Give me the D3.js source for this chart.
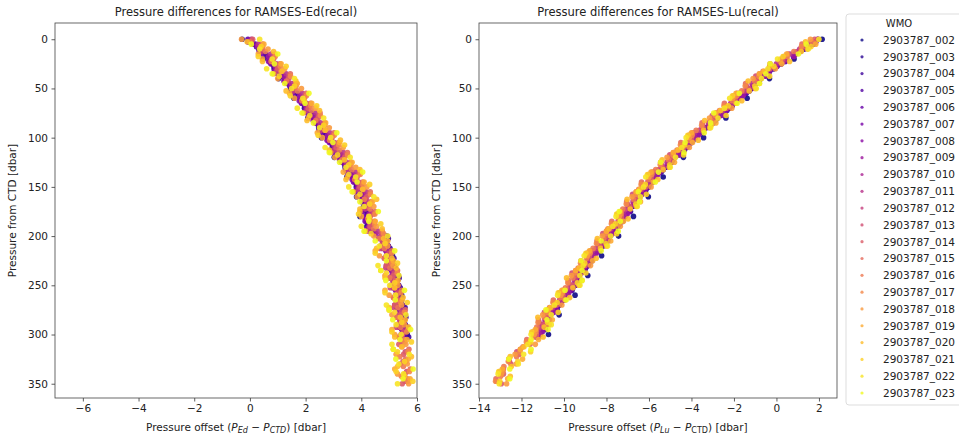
<!DOCTYPE html>
<html>
<head>
<meta charset="utf-8">
<script src="https://cdn.jsdelivr.net/npm/d3@7"></script>
<style>
body{margin:0;background:#fff;}
text{font-family:"DejaVu Sans",sans-serif;fill:#222;}
</style>
</head>
<body>
<svg width="959" height="436"></svg>
<script>
// profiles shown in the legend
var profiles = ["2903787_002","2903787_003","2903787_004","2903787_005","2903787_006","2903787_007",
  "2903787_008","2903787_009","2903787_010","2903787_011","2903787_012","2903787_013","2903787_014",
  "2903787_015","2903787_016","2903787_017","2903787_018","2903787_019","2903787_020","2903787_021",
  "2903787_022","2903787_023"];

// CTD pressure levels of the profiles (profile i uses pressLevels[i % 4])
var pressA = [0,10,20,30,40,50,60,70,80,90,100,110,120,130,140,150,160,170,180,190,200,210,220,230,240,250,260,270,280,290,300,310,320,330,340,350];
var pressB = [5,15,25,35,45,55,65,75,85,95,105,115,125,135,145,155,165,175,185,195,205,215,225,235,245,255,265,275,285,295,305,315,325,335,345];
var pressC = [2.5,12.5,22.5,32.5,42.5,52.5,62.5,72.5,82.5,92.5,102.5,112.5,122.5,132.5,142.5,152.5,162.5,172.5,182.5,192.5,202.5,212.5,222.5,232.5,242.5,252.5,262.5,272.5,282.5,292.5,302.5,312.5,322.5,332.5,342.5];
var pressD = [7.5,17.5,27.5,37.5,47.5,57.5,67.5,77.5,87.5,97.5,107.5,117.5,127.5,137.5,147.5,157.5,167.5,177.5,187.5,197.5,207.5,217.5,227.5,237.5,247.5,257.5,267.5,277.5,287.5,297.5,307.5,317.5,327.5,337.5,347.5];
var pressLevels = [pressA, pressB, pressC, pressD];

var xTicksEd = [-6,-4,-2,0,2,4,6];
var xTicksLu = [-14,-12,-10,-8,-6,-4,-2,0,2];
var yTicks = [0,50,100,150,200,250,300,350];

// P_Ed - P_CTD per profile (dbar)
var edOffsets = [
 [-0.28,0.32,0.48,0.87,1.03,1.46,1.58,1.96,2.08,2.47,2.57,2.96,3.03,3.42,3.48,3.82,3.83,4.08,3.95,4.2,4.92,4.97,5.12,5.18,5.33,5.34,5.45,5.48,5.58,5.57,5.65],
 [0.18,0.57,0.81,1.12,1.38,1.69,1.91,2.19,2.41,2.69,2.91,3.17,3.35,3.62,3.78,3.99,4.08,4.18,4.2,4.42,4.92,4.98,5.12,5.18,5.3,5.33,5.44,5.46,5.55,5.55],
 [-0.05,0.37,0.73,0.91,1.27,1.52,1.83,2.02,2.32,2.53,2.82,3.03,3.27,3.47,3.72,3.88,4.07,4.13,4.2,4.25,4.97,5.03,5.17,5.22,5.36,5.4,5.46,5.57,5.6,5.66,5.7],
 [0.23,0.62,0.86,1.17,1.43,1.74,1.96,2.24,2.46,2.74,2.96,3.22,3.4,3.67,3.83,4.04,4.13,4.23,4.25,4.47,4.83,4.97,5.03,5.17,5.21,5.32,5.35,5.45,5.46,5.54],
 [-0.07,0.42,0.68,0.97,1.23,1.57,1.78,2.07,2.28,2.57,2.78,3.07,3.23,3.52,3.68,3.92,4.03,4.17,4.15,4.29,4.83,4.97,5.03,5.17,5.22,5.34,5.36,5.47,5.48,5.57,5.55],
 [0.12,0.43,0.75,0.98,1.32,1.55,1.85,2.05,2.35,2.55,2.85,3.03,3.29,3.48,3.72,3.85,4.02,4.04,4.14,4.28,4.82,4.88,5.02,5.08,5.2,5.23,5.34,5.36,5.45,5.45],
 [-0.08,0.33,0.67,0.88,1.22,1.48,1.77,1.98,2.27,2.48,2.77,2.98,3.22,3.43,3.67,3.83,4.02,4.08,4.14,4.2,4.62,4.77,4.83,4.97,5.02,5.14,5.16,5.27,5.28,5.37,5.36],
 [0.28,0.67,0.91,1.22,1.48,1.79,2.01,2.29,2.51,2.79,3.01,3.27,3.45,3.72,3.88,4.09,4.18,4.28,4.3,4.52,4.78,4.92,4.98,5.12,5.16,5.27,5.3,5.4,5.41,5.49],
 [0.05,0.4,0.8,0.95,1.35,1.55,1.9,2.05,2.4,2.55,2.9,3.05,3.35,3.5,3.8,3.9,4.15,4.15,4.27,4.28,4.7,4.7,4.9,4.9,5.1,5.07,5.23,5.2,5.35,5.3,5.43],
 [0.3,0.75,0.95,1.3,1.5,1.87,2.03,2.37,2.53,2.87,3.03,3.35,3.47,3.8,3.9,4.17,4.2,4.36,4.32,4.6,4.75,4.95,4.95,5.15,5.13,5.3,5.27,5.43,5.38,5.5],
 [0.06,0.4,0.8,0.95,1.36,1.55,1.91,2.05,2.41,2.55,2.91,3.05,3.36,3.5,3.81,3.9,4.16,4.15,4.28,4.3,4.7,4.68,4.9,4.88,5.09,5.04,5.22,5.17,5.34,5.26,5.41],
 [0.41,0.86,1.04,1.41,1.61,1.98,2.14,2.48,2.64,2.98,3.14,3.46,3.58,3.91,4.01,4.28,4.28,4.44,4.43,4.75,4.77,5.0,5.0,5.19,5.17,5.33,5.3,5.45,5.4,5.53,5.45,5.58,5.5,5.63,5.57],
 [0.1,0.45,0.85,1.0,1.4,1.6,1.95,2.1,2.45,2.6,2.95,3.1,3.4,3.55,3.85,3.95,4.2,4.2,4.32,4.32,4.75,4.7,4.95,4.9,5.15,5.07,5.28,5.2,5.4,5.3,5.48,5.35,5.52,5.4,5.57,5.47],
 [0.45,0.9,1.08,1.45,1.65,2.02,2.18,2.52,2.68,3.02,3.18,3.5,3.62,3.95,4.05,4.32,4.35,4.5,4.47,4.75,4.85,5.1,5.05,5.3,5.23,5.45,5.37,5.58,5.48,5.67,5.54,5.71,5.59,5.76,5.65],
 [0.0,0.56,0.76,1.11,1.31,1.71,1.86,2.21,2.36,2.71,2.86,3.21,3.31,3.66,3.76,4.06,4.11,4.31,4.23,4.45,4.63,4.83,4.83,5.03,5.02,5.19,5.15,5.32,5.27,5.41,5.34,5.46,5.38,5.51,5.44],
 [0.46,0.91,1.09,1.46,1.66,2.03,2.19,2.53,2.69,3.03,3.19,3.51,3.63,3.96,4.06,4.33,4.33,4.49,4.48,4.8,4.87,5.1,5.1,5.29,5.27,5.43,5.4,5.55,5.5,5.63,5.55,5.68,5.6,5.73,5.67],
 [-0.3,0.65,0.45,1.25,1.0,1.85,1.6,2.35,2.1,2.85,2.6,3.35,3.05,3.8,3.5,4.2,3.85,4.45,4.0,4.55,4.45,4.95,4.65,5.15,4.85,5.32,5.0,5.45,5.1,5.55,5.2,5.6,5.25,5.65,5.3,5.7],
 [0.5,0.3,1.12,0.85,1.7,1.42,2.22,1.92,2.72,2.42,3.22,2.9,3.67,3.35,4.1,3.72,4.4,3.95,4.5,4.15,4.95,4.5,5.15,4.7,5.32,4.85,5.47,5.0,5.58,5.1,5.64,5.15,5.69,5.2,5.75],
 [-0.1,0.85,0.45,1.15,1.65,1.3,1.95,2.5,2.05,2.7,3.25,2.85,3.4,3.95,3.45,4.05,4.55,3.95,4.3,4.75,4.8,4.55,5.1,5.25,4.85,5.2,5.5,5.0,5.4,5.7,5.2,5.45,5.8,5.3,5.55],
 [0.4,0.3,1.3,1.05,1.6,1.45,2.4,2.15,2.65,2.45,3.4,3.15,3.55,3.55,4.3,3.95,4.3,3.9,4.7,4.35,4.85,4.5,5.3,4.9,5.2,4.85,5.65,5.2,5.45,5.1,5.8,5.3,5.55,5.25,5.85],
 [0.35,0.35,0.8,0.6,1.6,1.5,1.9,1.7,2.65,2.5,2.9,2.7,3.6,3.45,3.8,3.55,4.45,4.1,4.27,4.0,4.95,4.65,4.9,4.6,5.35,5.02,5.23,4.9,5.6,5.25,5.43,5.1,5.72,5.35,5.52,5.3],
 [0.05,1.0,0.88,0.8,1.25,2.12,1.98,1.87,2.28,3.12,2.98,2.85,3.22,4.05,3.85,3.67,3.95,4.61,4.27,4.1,4.5,5.2,4.9,4.7,4.88,5.55,5.22,5.0,5.13,5.77,5.39,5.15,5.24,5.86,5.5]
];

// P_Lu - P_CTD per profile (dbar)
var luOffsets = [
 [2.15,1.32,0.83,-0.13,-0.33,-1.17,-1.38,-2.22,-2.38,-3.32,-3.43,-4.22,-4.38,-5.22,-5.33,-6.02,-6.03,-6.77,-6.73,-7.47,-7.43,-8.17,-8.23,-8.87,-8.88,-9.47,-9.48,-10.22,-10.23,-10.82,-10.73],
 [1.72,0.88,0.23,-0.37,-0.98,-1.42,-1.98,-2.42,-3.03,-3.52,-4.03,-4.42,-4.98,-5.42,-5.88,-6.17,-6.58,-6.87,-7.28,-7.57,-7.98,-8.32,-8.73,-9.02,-9.33,-9.62,-10.03,-10.32,-10.73,-10.87],
 [1.85,1.13,0.42,-0.32,-0.82,-1.28,-1.87,-2.33,-2.87,-3.43,-3.92,-4.33,-4.87,-5.33,-5.82,-6.13,-6.52,-6.88,-7.22,-7.58,-7.92,-8.28,-8.72,-8.98,-9.37,-9.58,-9.97,-10.33,-10.72,-10.93,-11.22],
 [1.52,0.8,0.03,-0.57,-1.08,-1.62,-2.08,-2.62,-3.13,-3.72,-4.13,-4.62,-5.08,-5.62,-5.98,-6.37,-6.68,-7.07,-7.38,-7.77,-8.08,-8.52,-8.83,-9.22,-9.43,-9.82,-10.13,-10.52,-10.83,-11.07],
 [1.95,1.27,0.48,-0.17,-0.72,-1.18,-1.77,-2.23,-2.77,-3.33,-3.82,-4.23,-4.77,-5.23,-5.72,-6.03,-6.42,-6.78,-7.12,-7.48,-7.82,-8.18,-8.62,-8.88,-9.27,-9.48,-9.87,-10.23,-10.62,-10.83,-11.12],
 [1.72,0.91,0.22,-0.42,-0.93,-1.47,-1.93,-2.47,-2.98,-3.57,-3.98,-4.47,-4.93,-5.47,-5.83,-6.22,-6.53,-6.92,-7.23,-7.62,-7.93,-8.37,-8.68,-9.07,-9.28,-9.67,-9.98,-10.37,-10.68,-10.92],
 [1.85,1.08,0.37,-0.33,-0.87,-1.32,-1.92,-2.37,-2.92,-3.47,-3.97,-4.37,-4.92,-5.37,-5.87,-6.17,-6.57,-6.92,-7.27,-7.62,-7.97,-8.32,-8.77,-9.02,-9.42,-9.62,-10.02,-10.37,-10.77,-10.97,-11.27],
 [1.53,0.82,0.02,-0.52,-1.13,-1.57,-2.13,-2.57,-3.18,-3.67,-4.18,-4.57,-5.13,-5.57,-6.03,-6.32,-6.73,-7.02,-7.43,-7.72,-8.13,-8.47,-8.88,-9.17,-9.48,-9.77,-10.18,-10.47,-10.88,-11.02],
 [1.95,1.1,0.45,-0.35,-0.75,-1.35,-1.8,-2.4,-2.8,-3.5,-3.85,-4.4,-4.8,-5.4,-5.75,-6.2,-6.45,-6.95,-7.15,-7.65,-7.85,-8.35,-8.65,-9.05,-9.3,-9.65,-9.9,-10.4,-10.65,-11.0,-11.15],
 [1.5,0.63,0.0,-0.7,-1.15,-1.75,-2.15,-2.75,-3.2,-3.85,-4.2,-4.75,-5.15,-5.75,-6.05,-6.5,-6.75,-7.2,-7.45,-7.9,-8.15,-8.65,-8.9,-9.35,-9.5,-9.95,-10.2,-10.65,-10.9,-11.2],
 [1.8,0.97,0.3,-0.48,-0.9,-1.48,-1.95,-2.53,-2.95,-3.63,-4.0,-4.53,-4.95,-5.53,-5.9,-6.33,-6.6,-7.08,-7.3,-7.78,-8.0,-8.48,-8.8,-9.18,-9.45,-9.78,-10.05,-10.53,-10.8,-11.13,-11.3],
 [1.25,0.35,-0.27,-0.97,-1.42,-2.02,-2.42,-3.02,-3.47,-4.12,-4.47,-5.02,-5.42,-6.02,-6.32,-6.77,-7.02,-7.47,-7.72,-8.17,-8.42,-8.92,-9.17,-9.62,-9.77,-10.22,-10.47,-10.92,-11.17,-11.47,-11.72,-12.22,-12.57,-13.02,-13.17],
 [1.8,1.15,0.3,-0.3,-0.9,-1.3,-1.95,-2.35,-2.95,-3.45,-4.0,-4.35,-4.95,-5.35,-5.9,-6.15,-6.6,-6.9,-7.3,-7.6,-8.0,-8.3,-8.8,-9.0,-9.45,-9.6,-10.05,-10.35,-10.8,-10.95,-11.3,-11.6,-12.1,-12.5,-12.85,-12.95],
 [1.2,0.53,-0.3,-0.8,-1.45,-1.85,-2.45,-2.85,-3.5,-3.95,-4.5,-4.85,-5.45,-5.85,-6.35,-6.6,-7.05,-7.3,-7.75,-8.0,-8.45,-8.75,-9.2,-9.45,-9.8,-10.05,-10.5,-10.75,-11.2,-11.3,-11.75,-12.05,-12.6,-12.85,-13.2],
 [1.67,0.82,0.17,-0.63,-1.03,-1.63,-2.08,-2.68,-3.08,-3.78,-4.13,-4.68,-5.08,-5.68,-6.03,-6.48,-6.73,-7.23,-7.43,-7.93,-8.13,-8.63,-8.93,-9.33,-9.58,-9.93,-10.18,-10.68,-10.93,-11.28,-11.43,-11.93,-12.23,-12.83,-12.98],
 [1.18,0.51,-0.32,-0.82,-1.47,-1.87,-2.47,-2.87,-3.52,-3.97,-4.52,-4.87,-5.47,-5.87,-6.37,-6.62,-7.07,-7.32,-7.77,-8.02,-8.47,-8.77,-9.22,-9.47,-9.82,-10.07,-10.52,-10.77,-11.22,-11.32,-11.77,-12.07,-12.62,-12.87,-13.22],
 [1.6,1.45,0.2,-0.05,-1.1,-1.0,-2.05,-2.1,-3.15,-3.15,-4.1,-4.1,-5.15,-5.05,-6.0,-5.9,-6.8,-6.6,-7.4,-7.35,-8.2,-8.0,-8.9,-8.75,-9.65,-9.3,-10.15,-10.1,-11.0,-10.7,-11.4,-11.35,-12.3,-12.25,-12.95,-12.7],
 [1.85,0.48,0.25,-0.8,-0.8,-1.9,-1.9,-2.85,-2.85,-4.0,-3.95,-4.85,-4.8,-5.9,-5.8,-6.6,-6.4,-7.35,-7.2,-8.0,-7.8,-8.8,-8.65,-9.45,-9.15,-10.1,-9.95,-10.75,-10.55,-11.35,-11.2,-12.05,-11.95,-12.9,-12.65],
 [1.37,1.17,0.62,-0.58,-1.33,-1.28,-1.63,-2.63,-3.38,-3.43,-3.68,-4.63,-5.38,-5.33,-5.58,-6.43,-7.03,-6.88,-6.98,-7.88,-8.43,-8.28,-8.48,-9.28,-9.88,-9.58,-9.73,-10.63,-11.23,-10.93,-10.98,-11.88,-12.53,-12.48,-12.53],
 [1.63,0.31,-0.12,-0.32,-1.02,-2.07,-2.27,-2.37,-3.07,-4.17,-4.32,-4.37,-5.02,-6.07,-6.17,-6.12,-6.62,-7.52,-7.57,-7.52,-8.02,-8.97,-9.02,-8.97,-9.37,-10.27,-10.32,-10.27,-10.77,-11.52,-11.57,-11.57,-12.17,-13.07,-13.02],
 [2.0,1.5,0.05,-0.4,-0.7,-0.95,-2.2,-2.45,-2.75,-3.1,-4.25,-4.45,-4.75,-5.0,-6.15,-6.25,-6.4,-6.55,-7.55,-7.7,-7.8,-7.95,-9.05,-9.1,-9.25,-9.25,-10.3,-10.45,-10.6,-10.6,-11.55,-11.7,-11.9,-12.15,-13.1,-13.05],
 [1.4,1.03,-0.3,-0.5,-0.8,-1.75,-1.85,-2.95,-3.1,-3.4,-4.3,-4.35,-5.45,-5.55,-5.7,-6.5,-6.45,-7.4,-7.35,-7.45,-8.25,-8.25,-9.2,-9.15,-9.15,-9.95,-9.9,-10.85,-10.8,-10.75,-11.55,-11.55,-12.6,-12.55,-12.55]
];

var svg = d3.select('svg');
svg.append('rect').attr('width',959).attr('height',436).attr('fill','#fff');

var top_ = 23, bottom_ = 398;
var yScale = d3.scaleLinear().domain([-16.5, 364.5]).range([top_, bottom_]);
var colour = function(i){ return d3.interpolatePlasma(i/(profiles.length-1)); };

function pointsFor(offsets){
	var pts = [];
	offsets.forEach(function(arr, i){
		var press = pressLevels[i % 4];
		arr.forEach(function(v, k){
			if (press[k] !== undefined) pts.push({x:v, p:press[k], i:i});
		});
	});
	return pts;
}

function drawPanel(left, right, xDomain, xTicks, offsets, title, sub, ctdItalic, id){
	var x = d3.scaleLinear().domain(xDomain).range([left, right]);
	var g = svg.append('g');

	g.append('clipPath').attr('id', id)
		.append('rect').attr('x',left).attr('y',top_).attr('width',right-left).attr('height',bottom_-top_);

	g.append('g').attr('clip-path','url(#'+id+')')
		.selectAll('circle')
		.data(pointsFor(offsets))
		.enter().append('circle')
		.attr('cx', function(d){ return x(d.x); })
		.attr('cy', function(d){ return yScale(d.p); })
		.attr('r', 2.8)
		.attr('fill', function(d){ return colour(d.i); })
		.attr('fill-opacity', 0.9);

	var xAxis = g.append('g').attr('transform','translate(0,'+bottom_+')')
		.call(d3.axisBottom(x).tickValues(xTicks).tickSize(3.5).tickPadding(3.5).tickFormat(d3.format('d')));
	var yAxis = g.append('g').attr('transform','translate('+left+',0)')
		.call(d3.axisLeft(yScale).tickValues(yTicks).tickSize(3.5).tickPadding(3.5).tickFormat(d3.format('d')));
	[xAxis, yAxis].forEach(function(a){
		a.select('.domain').remove();
		a.selectAll('line').attr('stroke','#333').attr('stroke-width',0.8);
		a.selectAll('text').style('font-size','10.5px').style('font-family','DejaVu Sans').attr('fill','#222');
	});

	g.append('rect').attr('x',left).attr('y',top_).attr('width',right-left).attr('height',bottom_-top_)
		.attr('fill','none').attr('stroke','#444').attr('stroke-width',0.8);

	var cx = (left+right)/2;
	g.append('text').attr('x',cx).attr('y',16).attr('text-anchor','middle')
		.style('font-size','11.5px').text(title);

	var xl = g.append('text').attr('x',cx).attr('y',431).attr('text-anchor','middle').style('font-size','10.5px');
	xl.append('tspan').text('Pressure offset (');
	xl.append('tspan').style('font-style','italic').text('P');
	xl.append('tspan').style('font-style','italic').style('font-size','8px').attr('dy',2).text(sub);
	xl.append('tspan').attr('dy',-2).text(' \u2212 ');
	xl.append('tspan').style('font-style','italic').text('P');
	xl.append('tspan').style('font-style', ctdItalic ? 'italic' : 'normal').style('font-size','8px').attr('dy',2).text('CTD');
	xl.append('tspan').attr('dy',-2).text(') [dbar]');

	g.append('text').attr('transform','translate('+(left-39)+','+((top_+bottom_)/2)+') rotate(-90)')
		.attr('text-anchor','middle').style('font-size','10.5px').text('Pressure from CTD [dbar]');
}

drawPanel(55, 417, [-7, 6], xTicksEd, edOffsets, 'Pressure differences for RAMSES-Ed(recal)', 'Ed', true, 'clipEd');
drawPanel(479, 837, [-14, 2.85], xTicksLu, luOffsets, 'Pressure differences for RAMSES-Lu(recal)', 'Lu', false, 'clipLu');

// legend
var lg = svg.append('g');
lg.append('rect').attr('x',846).attr('y',14).attr('width',130).attr('height',391).attr('rx',3)
	.attr('fill','#fff').attr('stroke','#ddd').attr('stroke-width',1);
lg.append('text').attr('x',899).attr('y',27).attr('text-anchor','middle').style('font-size','10px').text('WMO');
var rowY = d3.scaleLinear().domain([0, profiles.length-1]).range([40, 393]);
var rows = lg.selectAll('g.row').data(profiles).enter().append('g').attr('class','row')
	.attr('transform', function(d,i){ return 'translate(0,'+rowY(i)+')'; });
rows.append('circle').attr('cx',862).attr('cy',0).attr('r',1.6)
	.attr('fill', function(d,i){ return colour(i); }).attr('fill-opacity',0.8);
rows.append('text').attr('x',883).attr('y',3.8).style('font-size','10.5px').text(function(d){ return d; });
</script>
</body>
</html>
